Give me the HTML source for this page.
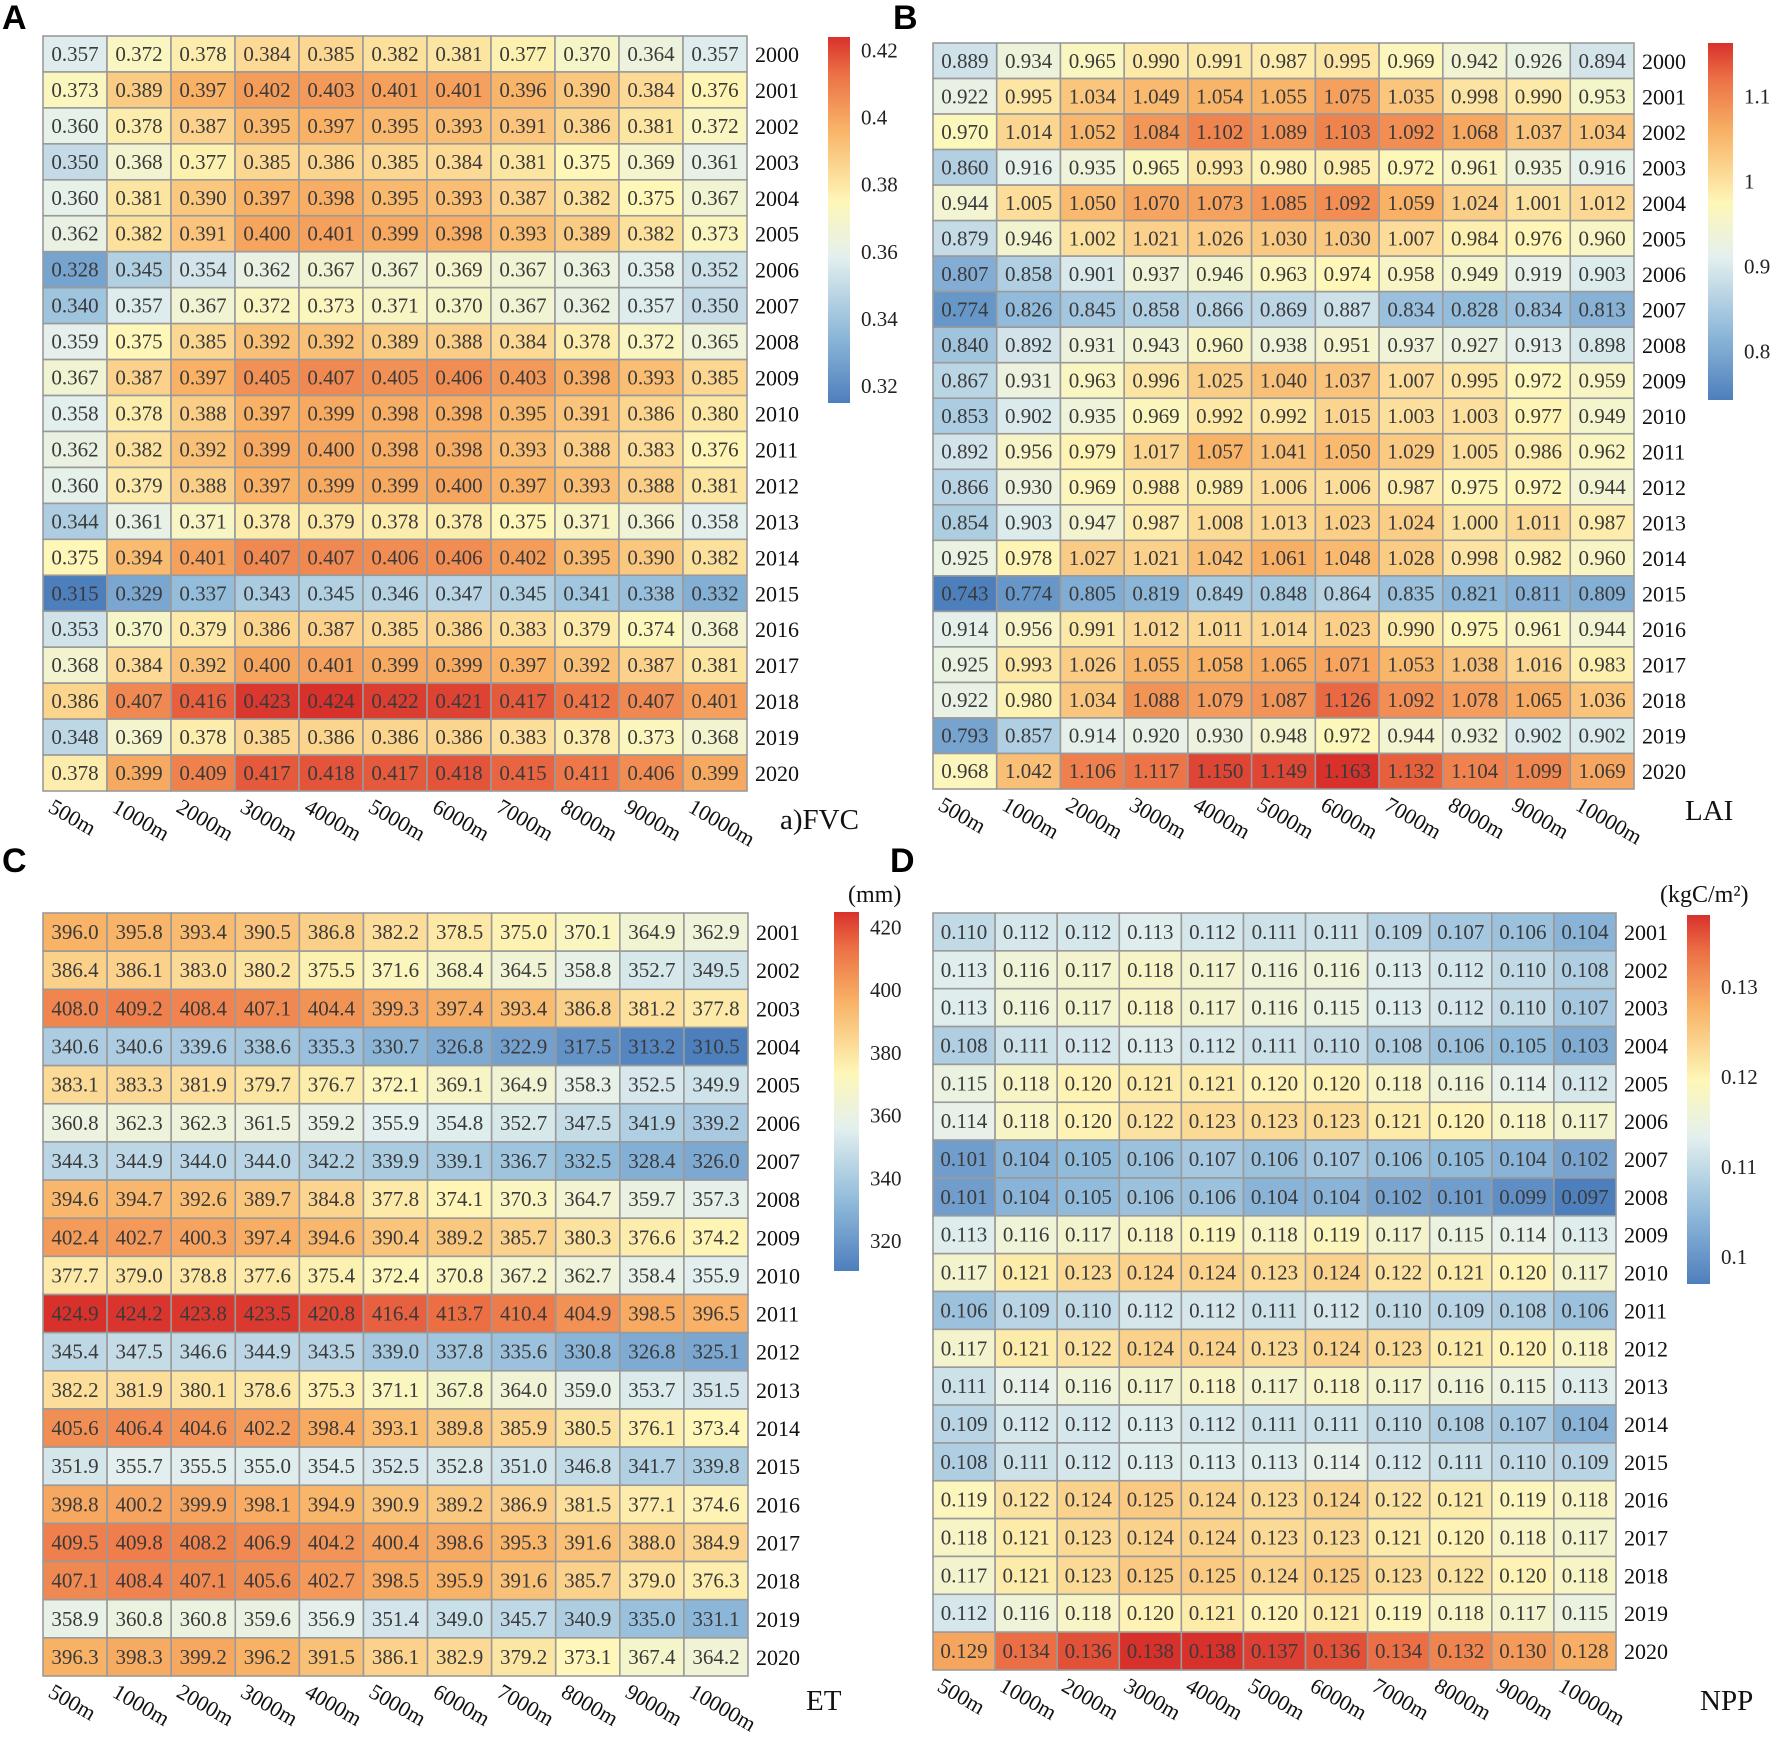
<!DOCTYPE html>
<html><head><meta charset="utf-8">
<style>
html,body{margin:0;padding:0;background:#fff}
svg{display:block}
text{font-family:"Liberation Serif",serif}
</style></head>
<body>
<svg id="fig" width="1772" height="1747" viewBox="0 0 1772 1747" xmlns="http://www.w3.org/2000/svg">
<defs id="defs"></defs>
</svg>
<script>
const columns = ["500m","1000m","2000m","3000m","4000m","5000m","6000m","7000m","8000m","9000m","10000m"];
const yearsAB = [2000,2001,2002,2003,2004,2005,2006,2007,2008,2009,2010,2011,2012,2013,2014,2015,2016,2017,2018,2019,2020];
const yearsCD = [2001,2002,2003,2004,2005,2006,2007,2008,2009,2010,2011,2012,2013,2014,2015,2016,2017,2018,2019,2020];
const fvcTicks = [0.32,0.34,0.36,0.38,0.4,0.42];
const laiTicks = [0.8,0.9,1,1.1];
const etTicks = [320,340,360,380,400,420];
const nppTicks = [0.1,0.11,0.12,0.13];
const fvc = [
[.357,.372,.378,.384,.385,.382,.381,.377,.370,.364,.357],
[.373,.389,.397,.402,.403,.401,.401,.396,.390,.384,.376],
[.360,.378,.387,.395,.397,.395,.393,.391,.386,.381,.372],
[.350,.368,.377,.385,.386,.385,.384,.381,.375,.369,.361],
[.360,.381,.390,.397,.398,.395,.393,.387,.382,.375,.367],
[.362,.382,.391,.400,.401,.399,.398,.393,.389,.382,.373],
[.328,.345,.354,.362,.367,.367,.369,.367,.363,.358,.352],
[.340,.357,.367,.372,.373,.371,.370,.367,.362,.357,.350],
[.359,.375,.385,.392,.392,.389,.388,.384,.378,.372,.365],
[.367,.387,.397,.405,.407,.405,.406,.403,.398,.393,.385],
[.358,.378,.388,.397,.399,.398,.398,.395,.391,.386,.380],
[.362,.382,.392,.399,.400,.398,.398,.393,.388,.383,.376],
[.360,.379,.388,.397,.399,.399,.400,.397,.393,.388,.381],
[.344,.361,.371,.378,.379,.378,.378,.375,.371,.366,.358],
[.375,.394,.401,.407,.407,.406,.406,.402,.395,.390,.382],
[.315,.329,.337,.343,.345,.346,.347,.345,.341,.338,.332],
[.353,.370,.379,.386,.387,.385,.386,.383,.379,.374,.368],
[.368,.384,.392,.400,.401,.399,.399,.397,.392,.387,.381],
[.386,.407,.416,.423,.424,.422,.421,.417,.412,.407,.401],
[.348,.369,.378,.385,.386,.386,.386,.383,.378,.373,.368],
[.378,.399,.409,.417,.418,.417,.418,.415,.411,.406,.399]];
const lai = [
[.889,.934,.965,.990,.991,.987,.995,.969,.942,.926,.894],
[.922,.995,1.034,1.049,1.054,1.055,1.075,1.035,.998,.990,.953],
[.970,1.014,1.052,1.084,1.102,1.089,1.103,1.092,1.068,1.037,1.034],
[.860,.916,.935,.965,.993,.980,.985,.972,.961,.935,.916],
[.944,1.005,1.050,1.070,1.073,1.085,1.092,1.059,1.024,1.001,1.012],
[.879,.946,1.002,1.021,1.026,1.030,1.030,1.007,.984,.976,.960],
[.807,.858,.901,.937,.946,.963,.974,.958,.949,.919,.903],
[.774,.826,.845,.858,.866,.869,.887,.834,.828,.834,.813],
[.840,.892,.931,.943,.960,.938,.951,.937,.927,.913,.898],
[.867,.931,.963,.996,1.025,1.040,1.037,1.007,.995,.972,.959],
[.853,.902,.935,.969,.992,.992,1.015,1.003,1.003,.977,.949],
[.892,.956,.979,1.017,1.057,1.041,1.050,1.029,1.005,.986,.962],
[.866,.930,.969,.988,.989,1.006,1.006,.987,.975,.972,.944],
[.854,.903,.947,.987,1.008,1.013,1.023,1.024,1.000,1.011,.987],
[.925,.978,1.027,1.021,1.042,1.061,1.048,1.028,.998,.982,.960],
[.743,.774,.805,.819,.849,.848,.864,.835,.821,.811,.809],
[.914,.956,.991,1.012,1.011,1.014,1.023,.990,.975,.961,.944],
[.925,.993,1.026,1.055,1.058,1.065,1.071,1.053,1.038,1.016,.983],
[.922,.980,1.034,1.088,1.079,1.087,1.126,1.092,1.078,1.065,1.036],
[.793,.857,.914,.920,.930,.948,.972,.944,.932,.902,.902],
[.968,1.042,1.106,1.117,1.150,1.149,1.163,1.132,1.104,1.099,1.069]];
const et = [
[396.0,395.8,393.4,390.5,386.8,382.2,378.5,375.0,370.1,364.9,362.9],
[386.4,386.1,383.0,380.2,375.5,371.6,368.4,364.5,358.8,352.7,349.5],
[408.0,409.2,408.4,407.1,404.4,399.3,397.4,393.4,386.8,381.2,377.8],
[340.6,340.6,339.6,338.6,335.3,330.7,326.8,322.9,317.5,313.2,310.5],
[383.1,383.3,381.9,379.7,376.7,372.1,369.1,364.9,358.3,352.5,349.9],
[360.8,362.3,362.3,361.5,359.2,355.9,354.8,352.7,347.5,341.9,339.2],
[344.3,344.9,344.0,344.0,342.2,339.9,339.1,336.7,332.5,328.4,326.0],
[394.6,394.7,392.6,389.7,384.8,377.8,374.1,370.3,364.7,359.7,357.3],
[402.4,402.7,400.3,397.4,394.6,390.4,389.2,385.7,380.3,376.6,374.2],
[377.7,379.0,378.8,377.6,375.4,372.4,370.8,367.2,362.7,358.4,355.9],
[424.9,424.2,423.8,423.5,420.8,416.4,413.7,410.4,404.9,398.5,396.5],
[345.4,347.5,346.6,344.9,343.5,339.0,337.8,335.6,330.8,326.8,325.1],
[382.2,381.9,380.1,378.6,375.3,371.1,367.8,364.0,359.0,353.7,351.5],
[405.6,406.4,404.6,402.2,398.4,393.1,389.8,385.9,380.5,376.1,373.4],
[351.9,355.7,355.5,355.0,354.5,352.5,352.8,351.0,346.8,341.7,339.8],
[398.8,400.2,399.9,398.1,394.9,390.9,389.2,386.9,381.5,377.1,374.6],
[409.5,409.8,408.2,406.9,404.2,400.4,398.6,395.3,391.6,388.0,384.9],
[407.1,408.4,407.1,405.6,402.7,398.5,395.9,391.6,385.7,379.0,376.3],
[358.9,360.8,360.8,359.6,356.9,351.4,349.0,345.7,340.9,335.0,331.1],
[396.3,398.3,399.2,396.2,391.5,386.1,382.9,379.2,373.1,367.4,364.2]];
const npp = [
[.110,.112,.112,.113,.112,.111,.111,.109,.107,.106,.104],
[.113,.116,.117,.118,.117,.116,.116,.113,.112,.110,.108],
[.113,.116,.117,.118,.117,.116,.115,.113,.112,.110,.107],
[.108,.111,.112,.113,.112,.111,.110,.108,.106,.105,.103],
[.115,.118,.120,.121,.121,.120,.120,.118,.116,.114,.112],
[.114,.118,.120,.122,.123,.123,.123,.121,.120,.118,.117],
[.101,.104,.105,.106,.107,.106,.107,.106,.105,.104,.102],
[.101,.104,.105,.106,.106,.104,.104,.102,.101,.099,.097],
[.113,.116,.117,.118,.119,.118,.119,.117,.115,.114,.113],
[.117,.121,.123,.124,.124,.123,.124,.122,.121,.120,.117],
[.106,.109,.110,.112,.112,.111,.112,.110,.109,.108,.106],
[.117,.121,.122,.124,.124,.123,.124,.123,.121,.120,.118],
[.111,.114,.116,.117,.118,.117,.118,.117,.116,.115,.113],
[.109,.112,.112,.113,.112,.111,.111,.110,.108,.107,.104],
[.108,.111,.112,.113,.113,.113,.114,.112,.111,.110,.109],
[.119,.122,.124,.125,.124,.123,.124,.122,.121,.119,.118],
[.118,.121,.123,.124,.124,.123,.123,.121,.120,.118,.117],
[.117,.121,.123,.125,.125,.124,.125,.123,.122,.120,.118],
[.112,.116,.118,.120,.121,.120,.121,.119,.118,.117,.115],
[.129,.134,.136,.138,.138,.137,.136,.134,.132,.130,.128]];

const NS="http://www.w3.org/2000/svg";
const svg=document.getElementById('fig');
const defs=document.getElementById('defs');
const STOPS=[[0,[78,127,189]],[0.2,[147,188,219]],[0.4,[228,240,238]],[0.55,[254,247,184]],[0.75,[248,178,102]],[0.9,[236,112,69]],[1,[216,49,44]]];
function colorAt(t){
  t=Math.max(0,Math.min(1,t));
  for(let i=1;i<STOPS.length;i++){
    if(t<=STOPS[i][0]){
      const a=STOPS[i-1],b=STOPS[i],f=(t-a[0])/(b[0]-a[0]);
      const c=a[1].map((v,k)=>Math.round(v+(b[1][k]-v)*f));
      return 'rgb('+c.join(',')+')';
    }
  }
  return 'rgb(216,49,44)';
}
function mk(tag,attrs,parent){
  const e=document.createElementNS(NS,tag);
  for(const k in attrs)e.setAttribute(k,attrs[k]);
  (parent||svg).appendChild(e);return e;
}
function drawPanel(id,data,years,ticks,dec,g,cb,title,unit,letter){
  const grp=mk('g',{});
  
  
  let mn=Infinity,mx=-Infinity;
  data.forEach(r=>r.forEach(v=>{mn=Math.min(mn,v);mx=Math.max(mx,v);}));
  const nR=data.length,nC=columns.length;
  const cw=(g.x1-g.x0)/nC,ch=(g.y1-g.y0)/nR;
  const xS=i=>g.x0+i*cw, yS=j=>g.y0+j*ch;
  data.forEach((row,j)=>row.forEach((v,i)=>{
    const r=mk('rect',{x:xS(i),y:yS(j),width:cw,height:ch,fill:colorAt((v-mn)/(mx-mn)),stroke:'#9a9a9a','stroke-width':1.6},grp);
    
    
    const t=mk('text',{x:xS(i)+cw/2,y:yS(j)+ch/2+7,'text-anchor':'middle','font-size':21,fill:'#3a3a3a'},grp);
    
    
    t.textContent=v.toFixed(dec);
  }));
  years.forEach((y,j)=>{
    const t=mk('text',{x:g.x1+8,y:yS(j)+ch/2+8,'font-size':22,fill:'#111'},grp);
    
    
    t.textContent=y;
  });
  columns.forEach((c,i)=>{
    const cx=xS(i)+cw/2-28, cy=g.y1+20;
    const t=mk('text',{x:cx,y:cy,'font-size':22,fill:'#111',transform:'rotate(30 '+cx+' '+cy+')'},grp);
    
    
    t.textContent=c;
  });
  // colorbar
  const gid='grad-'+id;
  const lg=mk('linearGradient',{id:gid,x1:0,y1:1,x2:0,y2:0},defs);
  STOPS.forEach(s=>mk('stop',{offset:s[0],'stop-color':'rgb('+s[1].join(',')+')'},lg));
  const bar=mk('rect',{x:cb.x,y:cb.y0,width:cb.w,height:cb.y1-cb.y0,fill:'url(#'+gid+')'},grp);
  
  
  const cS=v=>cb.y1-(v-mn)/(mx-mn)*(cb.y1-cb.y0);
  ticks.forEach(v=>{
    const t=mk('text',{x:cb.x+cb.w+11,y:cS(v)+7,'font-size':21,fill:'#222'},grp);
    
    
    t.textContent=String(v);
  });
  if(unit){
    const u=mk('text',{x:unit.x,y:unit.y,'font-size':24,fill:'#111'},grp);
    
    
    u.textContent=unit.t;
  }
  const tt=mk('text',{x:title.x,y:title.y,'font-size':29,fill:'#111'},grp);
  
  
  tt.textContent=title.t;
  const L=mk('text',{x:letter.x,y:letter.y,'font-size':34,'font-weight':'bold',fill:'#000',style:'font-family:"Liberation Sans",sans-serif'},grp);
  
  
  L.textContent=letter.t;
}
drawPanel('fvc',fvc,yearsAB,fvcTicks,3,{x0:43,x1:747,y0:36,y1:791},{x:828,w:22,y0:37,y1:403},{x:780,y:829,t:'a)FVC'},null,{x:2,y:29,t:'A'});
drawPanel('lai',lai,yearsAB,laiTicks,3,{x0:933,x1:1634,y0:43,y1:789},{x:1708,w:25,y0:43,y1:400},{x:1685,y:820,t:'LAI'},null,{x:893,y:29,t:'B'});
drawPanel('et',et,yearsCD,etTicks,1,{x0:43,x1:748,y0:913,y1:1676},{x:834,w:25,y0:912,y1:1271},{x:806,y:1710,t:'ET'},{x:848,y:902,t:'(mm)'},{x:2,y:872,t:'C'});
drawPanel('npp',npp,yearsCD,nppTicks,3,{x0:933,x1:1616,y0:913,y1:1670},{x:1687,w:23,y0:915,y1:1284},{x:1700,y:1710,t:'NPP'},{x:1660,y:902,t:'(kgC/m²)'},{x:890,y:872,t:'D'});
</script>
</body></html>
